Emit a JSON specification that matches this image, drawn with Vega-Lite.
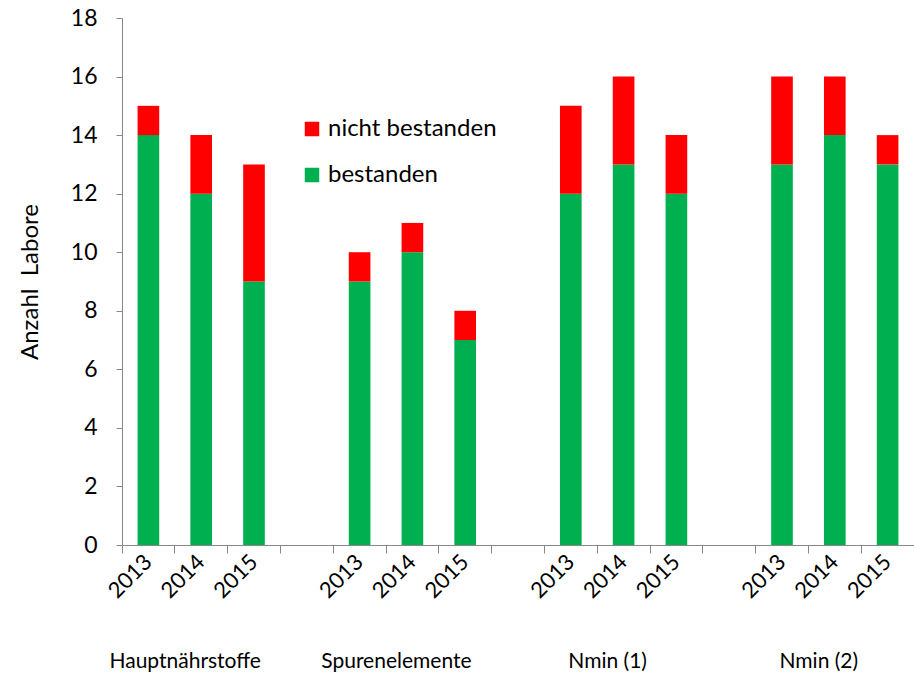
{
  "$schema": "https://vega.github.io/schema/vega-lite/v6.json",
  "autosize": {"type": "none"},
  "width": 792,
  "height": 527,
  "padding": {"left": 122, "top": 18, "right": 0, "bottom": 132},
  "background": "white",
  "config": {"view": {"stroke": null}},
  "layer": [
    {
      "data": {"values": [
        {"kategorie": "Hauptnährstoffe|2013", "status": "bestanden", "anzahl": 14},
        {"kategorie": "Hauptnährstoffe|2013", "status": "nicht bestanden", "anzahl": 1},
        {"kategorie": "Hauptnährstoffe|2014", "status": "bestanden", "anzahl": 12},
        {"kategorie": "Hauptnährstoffe|2014", "status": "nicht bestanden", "anzahl": 2},
        {"kategorie": "Hauptnährstoffe|2015", "status": "bestanden", "anzahl": 9},
        {"kategorie": "Hauptnährstoffe|2015", "status": "nicht bestanden", "anzahl": 4},
        {"kategorie": "Spurenelemente|2013", "status": "bestanden", "anzahl": 9},
        {"kategorie": "Spurenelemente|2013", "status": "nicht bestanden", "anzahl": 1},
        {"kategorie": "Spurenelemente|2014", "status": "bestanden", "anzahl": 10},
        {"kategorie": "Spurenelemente|2014", "status": "nicht bestanden", "anzahl": 1},
        {"kategorie": "Spurenelemente|2015", "status": "bestanden", "anzahl": 7},
        {"kategorie": "Spurenelemente|2015", "status": "nicht bestanden", "anzahl": 1},
        {"kategorie": "Nmin (1)|2013", "status": "bestanden", "anzahl": 12},
        {"kategorie": "Nmin (1)|2013", "status": "nicht bestanden", "anzahl": 3},
        {"kategorie": "Nmin (1)|2014", "status": "bestanden", "anzahl": 13},
        {"kategorie": "Nmin (1)|2014", "status": "nicht bestanden", "anzahl": 3},
        {"kategorie": "Nmin (1)|2015", "status": "bestanden", "anzahl": 12},
        {"kategorie": "Nmin (1)|2015", "status": "nicht bestanden", "anzahl": 2},
        {"kategorie": "Nmin (2)|2013", "status": "bestanden", "anzahl": 13},
        {"kategorie": "Nmin (2)|2013", "status": "nicht bestanden", "anzahl": 3},
        {"kategorie": "Nmin (2)|2014", "status": "bestanden", "anzahl": 14},
        {"kategorie": "Nmin (2)|2014", "status": "nicht bestanden", "anzahl": 2},
        {"kategorie": "Nmin (2)|2015", "status": "bestanden", "anzahl": 13},
        {"kategorie": "Nmin (2)|2015", "status": "nicht bestanden", "anzahl": 1}
      ]},
      "mark": {"type": "bar", "width": {"band": 0.41}},
      "encoding": {
        "x": {
          "field": "kategorie", "type": "nominal", "sort": null,
          "scale": {"domain": ["Hauptnährstoffe|2013", "Hauptnährstoffe|2014", "Hauptnährstoffe|2015", "lücke1", "Spurenelemente|2013", "Spurenelemente|2014", "Spurenelemente|2015", "lücke2", "Nmin (1)|2013", "Nmin (1)|2014", "Nmin (1)|2015", "lücke3", "Nmin (2)|2013", "Nmin (2)|2014", "Nmin (2)|2015"], "paddingInner": 0, "paddingOuter": 0},
          "axis": {"title": null, "bandPosition": 0, "labelExpr": "indexof(datum.value, '|') > 0 ? split(datum.value, '|')[1] : ''", "labelAngle": -45, "labelAlign": "right", "labelBaseline": "middle", "labelDx": 30, "labelFont": "Lato", "labelFontSize": 22, "labelColor": "#000000", "labelPadding": 5, "tickSize": 8, "tickColor": "#878787", "domainColor": "#878787", "grid": false}
        },
        "y": {
          "field": "anzahl", "type": "quantitative", "stack": "zero",
          "scale": {"domain": [0, 18], "nice": false},
          "axis": {"title": "Anzahl\u00a0\u00a0Labore", "values": [0, 2, 4, 6, 8, 10, 12, 14, 16, 18], "labelFont": "Lato", "titleFont": "Lato", "labelFontSize": 23, "titleFontSize": 24, "titleFontWeight": "normal", "labelColor": "#000000", "titleColor": "#000000", "labelPadding": 19, "titlePadding": 28, "tickSize": 6, "tickColor": "#878787", "domainColor": "#878787", "grid": false}
        },
        "order": {"field": "status", "sort": "ascending"},
        "color": {
          "field": "status", "type": "nominal",
          "scale": {"domain": ["nicht bestanden", "bestanden"], "range": ["#FF0000", "#00B050"]},
          "legend": {"title": null, "orient": "none", "legendX": 178, "legendY": 99, "symbolType": "square", "symbolSize": 210, "labelFont": "Lato", "labelFontSize": 24, "labelColor": "#000000", "labelLimit": 400, "rowPadding": 22, "labelOffset": 4}
        }
      }
    },
    {
      "data": {"values": [
        {"kategorie": "Hauptnährstoffe|2014", "gruppe": "Hauptnährstoffe"},
        {"kategorie": "Spurenelemente|2014", "gruppe": "Spurenelemente"},
        {"kategorie": "Nmin (1)|2014", "gruppe": "Nmin (1)"},
        {"kategorie": "Nmin (2)|2014", "gruppe": "Nmin (2)"}
      ]},
      "mark": {"type": "text", "fontSize": 21, "font": "Lato", "color": "#000000", "baseline": "middle", "align": "center", "dy": 117, "dx": -16},
      "encoding": {
        "x": {"field": "kategorie", "type": "nominal", "sort": null},
        "y": {"datum": 0, "type": "quantitative"},
        "text": {"field": "gruppe"}
      }
    }
  ]
}
